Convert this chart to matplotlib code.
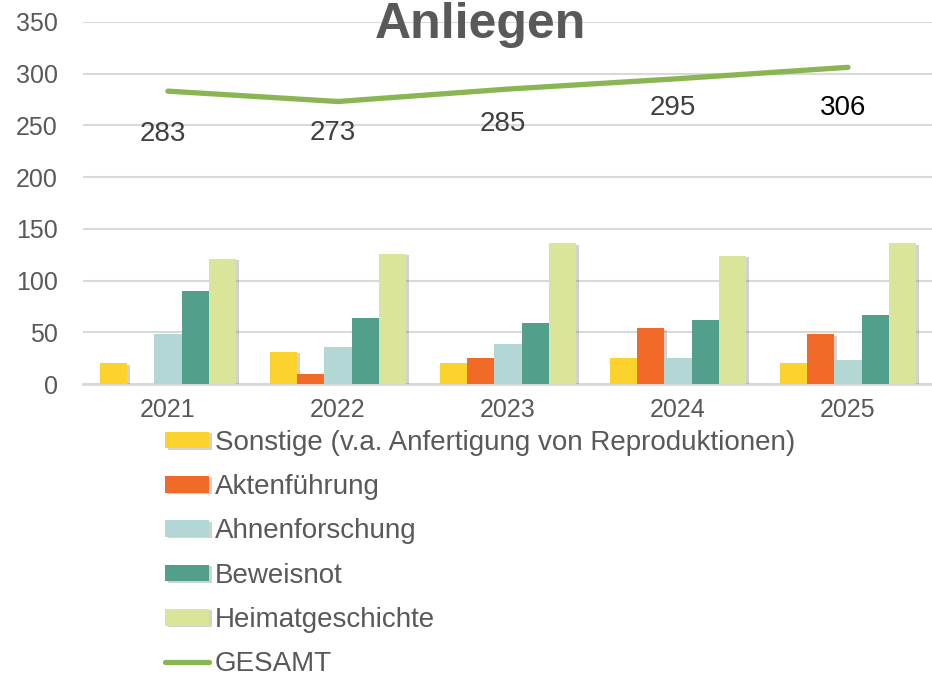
import numpy as np
import matplotlib.pyplot as plt
import matplotlib.patheffects as pe

plt.rcParams['font.family'] = ['Liberation Sans', 'DejaVu Sans']

years = ['2021', '2022', '2023', '2024', '2025']
series_names = ['Sonstige (v.a. Anfertigung von Reproduktionen)', 'Aktenführung',
                'Ahnenforschung', 'Beweisnot', 'Heimatgeschichte']
sonstige = [20, 31, 20, 25, 20]
akten = [0, 10, 25, 54, 48]
ahnen = [48, 36, 39, 25, 23]
beweis = [90, 64, 59, 62, 67]
heimat = [121, 126, 136, 124, 136]
gesamt = [283, 273, 285, 295, 306]
# label offsets below the line (in data units), as in the original
label_offset = [-41, -30, -34, -28, -39]

colors = ['#fcd22c', '#f26a28', '#b2d7d4', '#52a08c', '#dbe59a']
line_color = '#8ab553'
gray = '#595959'


def main():
    fig = plt.figure(figsize=(9.32, 6.8), dpi=100)
    ax = fig.add_axes([0.089, 0.435, 0.912, 0.533])

    x = np.arange(len(years))
    width = 0.16
    all_series = [sonstige, akten, ahnen, beweis, heimat]
    handles = []
    for i, (vals, name) in enumerate(zip(all_series, series_names)):
        b = ax.bar(x + (i - 2) * width, vals, width, color=colors[i], label=name,
                   zorder=3)
        for p in b:
            p.set_path_effects([pe.SimplePatchShadow(offset=(2, -1), shadow_rgbFace='#808080',
                                                     alpha=0.35), pe.Normal()])
        handles.append(b)

    ln, = ax.plot(x, gesamt, color=line_color, lw=3.8, solid_capstyle='round',
                  zorder=4, label='GESAMT')
    handles.append(ln)
    for i, v in enumerate(gesamt):
        ax.text(x[i] - 0.03, v + label_offset[i], str(v), ha='center', va='center',
                fontsize=20, color='black' if i == len(gesamt) - 1 else '#404040')

    ax.set_xlim(-0.5, 4.5)
    ax.set_ylim(0, 350)
    ax.set_yticks(range(0, 351, 50))
    ax.set_xticks(x)
    ax.set_xticklabels(years)
    ax.tick_params(axis='both', length=0, labelsize=18, labelcolor=gray)
    ax.tick_params(axis='x', pad=10)
    ax.tick_params(axis='y', pad=18)
    ax.grid(axis='y', color='#d9d9d9', lw=1.5, zorder=0)
    for s in ['top', 'right', 'left']:
        ax.spines[s].set_visible(False)
    ax.spines['bottom'].set_color('#d9d9d9')
    ax.spines['bottom'].set_linewidth(2)

    fig.text(0.515, 0.963, 'Anliegen', ha='center', va='center', fontsize=36,
             fontweight='bold', color=gray)

    fig.legend(handles=handles, loc='upper left', bbox_to_anchor=(0.177, 0.368),
               frameon=False, fontsize=20, labelcolor=gray, borderpad=0,
               borderaxespad=0, handlelength=1.6, handletextpad=0.2,
               labelspacing=0.66, handleheight=0.55)

    plt.savefig('out.png', dpi=100)


if __name__ == '__main__':
    main()
